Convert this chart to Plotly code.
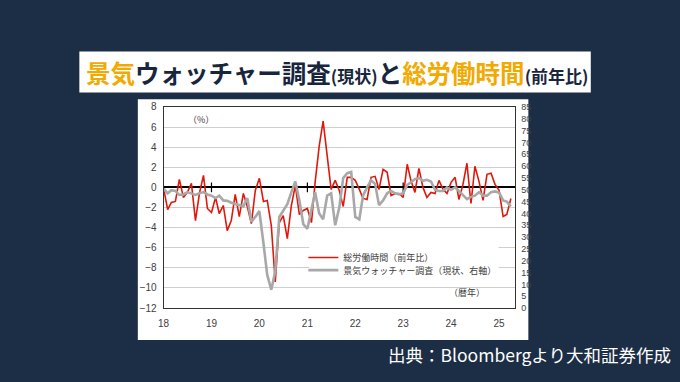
import plotly.graph_objects as go
import pandas as pd

W, H = 680, 382

# ---- data (Jan 2018 .. Apr 2025, monthly) ----
months = pd.date_range("2018-01-01", periods=88, freq="MS")

hours_yoy = [
    -0.1, -2.2, -1.5, -1.4, 0.8, -1.0, -0.5, 0.4, -3.3, -0.6, 1.2, -2.1,
    -2.5, -1.0, -2.6, -1.8, -4.3, -3.3, -0.7, -2.9, -0.6, -1.9, -3.6, -0.3,
    0.9, -1.4, -1.3, -3.8, -9.4, -3.5, -2.8, -5.1, -1.8, 0.2, -2.7, -2.3,
    -2.1, -3.5, 0.5, 4.1, 6.6, 3.2, -0.2, 0.7, -0.3, -1.9, 1.0, 1.0,
    0.7, -0.2, -1.1, -1.2, 1.0, 1.1, -0.2, 1.8, 1.5, -0.8, -0.6, -0.6,
    -1.0, 2.3, 0.7, -0.5, 1.9, 0.0, -1.0, -0.5, -0.6, 0.7, -0.2, -0.6,
    0.5, 1.0, -1.2, 0.3, 2.4, -1.6, 2.1, 0.6, -1.3, 1.3, 1.4, 0.3,
    -0.3, -2.9, -2.7, -1.1,
]

watchers_di = [
    50.5, 48.5, 49.8, 49.5, 47.8, 48.0, 49.0, 48.3, 47.8, 48.5, 49.0, 48.0,
    47.5, 46.5, 47.5, 45.5, 45.3, 44.5, 44.0, 43.5, 43.0, 46.5, 36.5, 38.5,
    41.0, 27.5, 14.0, 7.7, 15.5, 38.5, 41.0, 43.9, 49.0, 53.5, 45.5, 35.5,
    33.5, 41.5, 49.0, 40.0, 37.5, 47.5, 48.5, 35.0, 42.5, 55.0, 57.0, 57.5,
    38.5, 37.5, 47.5, 51.0, 54.0, 52.5, 43.5, 45.5, 48.5, 49.5, 48.5, 48.0,
    48.5, 52.0, 53.3, 54.5, 55.0, 53.8, 54.2, 53.5, 50.0, 49.5, 49.5, 51.0,
    50.0, 51.0, 49.5, 47.5, 46.0, 47.0, 47.5, 49.0, 47.5, 47.5, 49.0, 49.3,
    48.8, 45.5, 45.0, 43.0,
]

year_ticks = ["2018-01-01", "2019-01-01", "2020-01-01", "2021-01-01",
              "2022-01-01", "2023-01-01", "2024-01-01", "2025-01-01"]
year_labels = ["18", "19", "20", "21", "22", "23", "24", "25"]
zero_tick_dates = ["2019-01-01", "2021-01-01", "2023-01-01"]

name_hours = "総労働時間（前年比）"
name_watch = "景気ウォッチャー調査（現状、右軸）"


def px(x):
    return x / W


def py(y):
    return 1 - y / H


NUM_FONT = "Liberation Sans, Arial, sans-serif"
JP_FONT = "Noto Sans CJK JP, sans-serif"
BG = "#1c2e45"

fig = go.Figure()

fig.add_trace(go.Scatter(
    x=months, y=hours_yoy, name=name_hours, mode="lines",
    line=dict(color="#e0180c", width=1.6), yaxis="y", legend="legend",
))
fig.add_trace(go.Scatter(
    x=months, y=watchers_di, name=name_watch, mode="lines",
    line=dict(color="#a8a8a8", width=2.6), yaxis="y2", legend="legend2",
))
# small tick marks on the zero line
fig.add_trace(go.Scatter(
    x=zero_tick_dates, y=[0] * len(zero_tick_dates), mode="markers",
    marker=dict(symbol="line-ns", size=7, line=dict(color="#000", width=1.2)),
    showlegend=False, hoverinfo="skip", yaxis="y",
))

shapes = [
    # title box
    dict(type="rect", xref="paper", yref="paper", x0=px(74), x1=px(590),
         y0=py(90), y1=py(48), fillcolor="white", line=dict(width=0), layer="below"),
    # chart panel
    dict(type="rect", xref="paper", yref="paper", x0=px(133), x1=px(527),
         y0=py(345), y1=py(97), fillcolor="white", line=dict(width=0), layer="below"),
    # white legend backdrop (hides gridlines under legend)
    dict(type="rect", xref="paper", yref="paper", x0=px(306), x1=px(497),
         y0=py(281), y1=py(248), fillcolor="white", line=dict(width=0), layer="above"),
]

ORANGE = "#f2a900"
NAVY = "#17263d"
title_txt = (
    f'<b><span style="color:{ORANGE}">景気</span>ウォッチャー調査'
    f'<span style="font-size:17px">(現状)</span>と'
    f'<span style="color:{ORANGE}">総労働時間</span>'
    f'<span style="font-size:17px">(前年比)</span></b>'
)

annotations = [
    dict(text=title_txt, xref="paper", yref="paper", x=px(334), y=py(69),
         xanchor="center", yanchor="middle", showarrow=False,
         font=dict(family=JP_FONT, size=24.5, color=NAVY)),
    dict(text="（%）", xref="paper", yref="paper", x=px(197), y=py(118),
         xanchor="center", yanchor="middle", showarrow=False,
         font=dict(family=JP_FONT, size=9, color="#404040")),
    dict(text="（暦年）", xref="paper", yref="paper", x=px(465), y=py(296),
         xanchor="center", yanchor="middle", showarrow=False,
         font=dict(family=JP_FONT, size=9, color="#404040")),
    dict(text="出典：Bloombergより大和証券作成", xref="paper", yref="paper",
         x=px(673), y=py(360), xanchor="right", yanchor="middle", showarrow=False,
         font=dict(family=JP_FONT, size=17.5, color="white")),
]

legend_common = dict(
    xanchor="left", yanchor="middle", bgcolor="rgba(0,0,0,0)", borderwidth=0,
    font=dict(family=JP_FONT, size=9, color="#404040"), itemwidth=30,
)

fig.update_layout(
    width=W, height=H,
    margin=dict(l=0, r=0, t=0, b=0),
    paper_bgcolor=BG,
    plot_bgcolor="white",
    shapes=shapes,
    annotations=annotations,
    showlegend=True,
    legend=dict(x=px(300), y=py(260), **legend_common),
    legend2=dict(x=px(300), y=py(273), **legend_common),
    xaxis=dict(
        domain=[px(159), px(514)],
        type="date",
        range=["2018-01-01", "2025-05-06"],
        tickvals=year_ticks, ticktext=year_labels,
        tickfont=dict(family=NUM_FONT, size=10, color="#404040"),
        showgrid=False, zeroline=False,
        showline=True, linecolor="#333", linewidth=1, mirror=True,
        ticks="", ticklabelstandoff=6,
    ),
    yaxis=dict(
        domain=[py(312), py(105)],
        range=[-12, 8], dtick=2,
        tickfont=dict(family=NUM_FONT, size=10, color="#404040"),
        showgrid=True, gridcolor="#cfcfcf", gridwidth=1,
        zeroline=True, zerolinecolor="#000", zerolinewidth=1.5,
        showline=True, linecolor="#333", linewidth=1,
        ticks="", ticklabelstandoff=4,
    ),
    yaxis2=dict(
        overlaying="y", side="right", anchor="x",
        range=[0, 85], dtick=5,
        tickfont=dict(family=NUM_FONT, size=9, color="#404040"),
        showgrid=False, zeroline=False,
        showline=True, linecolor="#333", linewidth=1,
        ticks="", ticklabelstandoff=3,
    ),
)

fig.write_html(
    "out.html",
    config={"displayModeBar": False},
    post_script="document.body.style.margin='0';document.body.style.background='" + BG + "';",
)
